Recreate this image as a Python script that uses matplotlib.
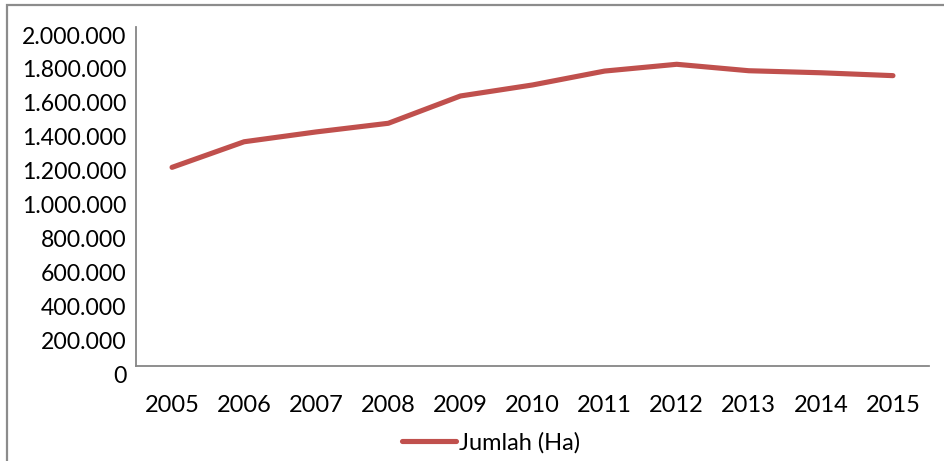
import matplotlib
matplotlib.use("Agg")
import matplotlib.pyplot as plt
import matplotlib.transforms as mtransforms
from matplotlib.lines import Line2D
from matplotlib.patches import Rectangle

years = ["2005", "2006", "2007", "2008", "2009", "2010", "2011", "2012", "2013", "2014", "2015"]
jumlah_ha = [1172000, 1323000, 1381000, 1432000, 1593000, 1658000, 1740000, 1780000, 1742000, 1730000, 1713000]
y_ticks = [0, 200000, 400000, 600000, 800000, 1000000, 1200000, 1400000, 1600000, 1800000, 2000000]
series_name = "Jumlah (Ha)"

plt.rcParams['font.family'] = ['Lato', 'DejaVu Sans']

fig = plt.figure(figsize=(9.44, 4.61), dpi=100)
ax = fig.add_axes([136/944, 1-366/461, (929-136)/944, (366-27)/461])

x = list(range(len(years)))
ax.plot(x, jumlah_ha, color="#C0504D", lw=3.7, solid_capstyle="round", solid_joinstyle="round")

ax.set_xlim(-0.5, len(years) - 0.5)
ax.set_ylim(0, 2000000)
ax.set_xticks(x)
ax.set_xticklabels(years)
ax.set_yticks(y_ticks)
ax.set_yticklabels([f"{v:,}".replace(",", ".") for v in y_ticks])
ax.tick_params(axis="both", length=0, colors="black")
ax.tick_params(axis="y", pad=7, labelsize=16.6)
ax.tick_params(axis="x", pad=21, labelsize=17)

offset = mtransforms.ScaledTranslation(0, -8/100, fig.dpi_scale_trans)
for lab in ax.get_yticklabels():
    lab.set_transform(lab.get_transform() + offset)

for s in ["top", "right"]:
    ax.spines[s].set_visible(False)
for s in ["left", "bottom"]:
    ax.spines[s].set_color("#868686")
    ax.spines[s].set_linewidth(1.3)

# legend
handle = Line2D([0], [0], color="#C0504D", lw=3.7, solid_capstyle="round")
fig.legend([handle], [series_name], loc="center", bbox_to_anchor=(491/944, 1-443/461),
           frameon=False, fontsize=17, handlelength=2.3, handletextpad=0.12)

# outer border
fig.patches.append(Rectangle((7/944, -0.1), 1.2, 1-5/461 + 0.1, transform=fig.transFigure,
                             fill=False, edgecolor="#8C8C8C", lw=1.6, zorder=0))

fig.savefig("out.png", dpi=100)
